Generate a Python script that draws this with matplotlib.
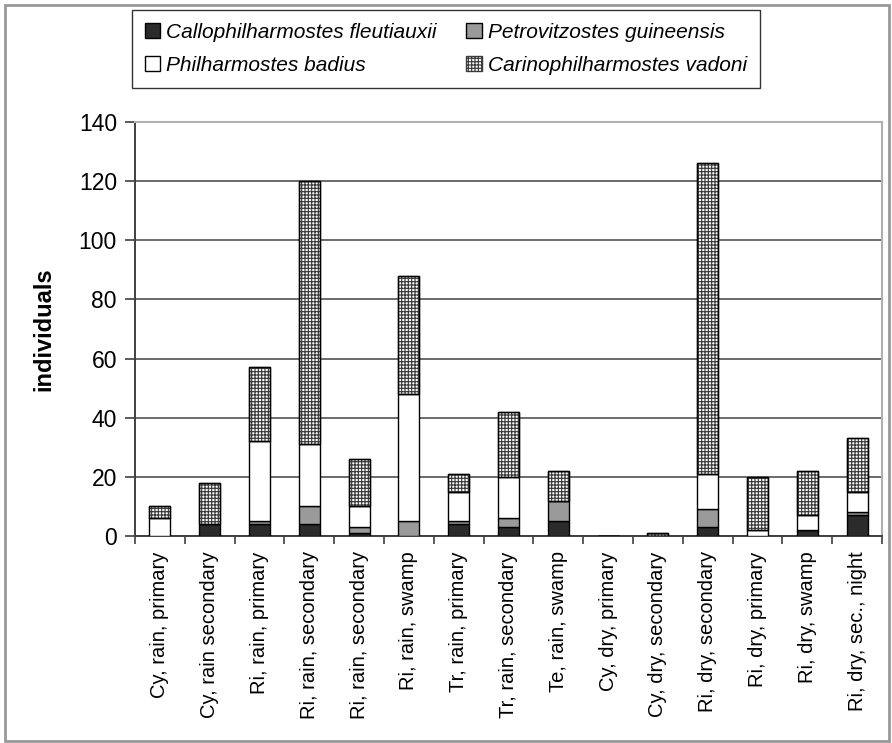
import numpy as np
import matplotlib
matplotlib.use("Agg")
import matplotlib.pyplot as plt
from matplotlib.patches import Rectangle

plt.rcParams["font.family"] = ["Liberation Sans", "DejaVu Sans"]
plt.rcParams["hatch.linewidth"] = 0.85

categories = [
    "Cy, rain, primary", "Cy, rain secondary", "Ri, rain, primary",
    "Ri, rain, secondary", "Ri, rain, secondary", "Ri, rain, swamp",
    "Tr, rain, primary", "Tr, rain, secondary", "Te, rain, swamp",
    "Cy, dry, primary", "Cy, dry, secondary", "Ri, dry, secondary",
    "Ri, dry, primary", "Ri, dry, swamp", "Ri, dry, sec., night",
]
fleutiauxii = [0, 4, 4, 4, 1, 0, 4, 3, 5, 0, 0, 3, 0, 2, 7]
guineensis = [0, 0, 1, 6, 2, 5, 1, 3, 7, 0, 0, 6, 0, 0, 1]
badius = [6, 0, 27, 21, 7, 43, 10, 14, 0, 0, 0, 12, 2, 5, 7]
vadoni = [4, 14, 25, 89, 16, 40, 6, 22, 10, 0, 1, 105, 18, 15, 18]

series = [
    ("Callophilharmostes fleutiauxii", fleutiauxii, "#2b2b2b", None, "black"),
    ("Petrovitzostes guineensis", guineensis, "#9a9a9a", None, "black"),
    ("Philharmostes badius", badius, "white", None, "black"),
    ("Carinophilharmostes vadoni", vadoni, "white", "+++++", "#3a3a3a"),
]

fig = plt.figure(figsize=(8.92, 7.43), dpi=100)
ax = fig.add_axes([135 / 892, 1 - 536 / 743, (882 - 135) / 892, (536 - 122) / 743])

x = np.arange(len(categories))
bottom = np.zeros(len(categories))
handles = {}
for name, vals, color, hatch, edge in series:
    vals = np.asarray(vals, dtype=float)
    bars = ax.bar(x, vals, bottom=bottom, width=0.42, color=color,
                  edgecolor=edge, hatch=hatch, linewidth=1.0, zorder=3)
    if hatch:
        # outline in black over the hatched fill
        ax.bar(x, vals, bottom=bottom, width=0.42, fill=False,
               edgecolor="black", linewidth=1.0, zorder=4)
    handles[name] = bars
    bottom += vals

ax.set_xlim(-0.5, len(categories) - 0.5)
ax.set_ylim(0, 140)
ax.set_yticks(np.arange(0, 141, 20))
ax.yaxis.grid(True, color="#6a6a6a", linewidth=1.4, zorder=0)
ax.set_axisbelow(True)
# top gridline would cover the light plot-area border
ax.yaxis.get_gridlines()[-1].set_visible(False)

ax.set_xticks(x)
ax.set_xticklabels(categories, rotation=90, fontsize=14.5, va="top", ha="center")
ax.set_xticks(np.arange(-0.5, len(categories), 1.0), minor=True)
ax.tick_params(axis="x", which="major", length=0, pad=11)
ax.tick_params(axis="x", which="minor", length=6, width=1.2, color="#404040")
ax.tick_params(axis="y", length=7, width=1.2, color="#404040", labelsize=16.5, pad=6)

for side in ("left", "bottom"):
    ax.spines[side].set_color("#404040")
    ax.spines[side].set_linewidth(1.4)
for side in ("top", "right"):
    ax.spines[side].set_color("#b0b0b0")
    ax.spines[side].set_linewidth(1.5)

ax.set_ylabel("individuals", fontsize=17, fontweight="bold", labelpad=17)

order = ["Callophilharmostes fleutiauxii", "Philharmostes badius",
         "Petrovitzostes guineensis", "Carinophilharmostes vadoni"]
leg = fig.legend([handles[n] for n in order], order, ncol=2,
                 loc="upper left", bbox_to_anchor=(132 / 892, 1 - 10 / 743),
                 borderaxespad=0.0,
                 prop={"style": "italic", "size": 15}, frameon=True,
                 fancybox=False, edgecolor="black", handlelength=0.75,
                 handleheight=0.75, handletextpad=0.3, columnspacing=1.4,
                 labelspacing=0.7, borderpad=0.6)
leg.get_frame().set_linewidth(1.0)

fig.patches.append(Rectangle((5 / 892, 2 / 743), 884 / 892, 736 / 743,
                             transform=fig.transFigure, fill=False,
                             edgecolor="#999999", linewidth=2))

fig.savefig("out.png", dpi=100)
